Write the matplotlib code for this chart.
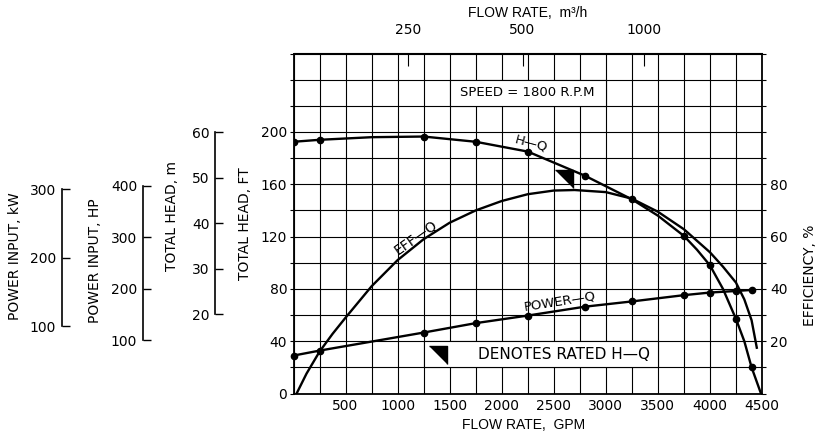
import numpy as np
import matplotlib
matplotlib.use('Agg')
import matplotlib.pyplot as plt
from matplotlib.patches import Rectangle
from matplotlib.ticker import MultipleLocator

# pump performance at 1800 rpm, flow in GPM
hq_flow = [0, 250, 750, 1250, 1750, 2250, 2800, 3250, 3500, 3750, 3875, 4000, 4125,
           4250, 4330, 4400, 4490]
hq_head_ft = [192.5, 194, 196, 196.5, 192.5, 185, 166.5, 148.5, 136, 120.5, 110, 98, 80,
              57, 40, 20, 0]
hq_dots = [0, 1, 3, 4, 5, 6, 7, 9, 11, 13, 15]

eff_flow = [30, 125, 250, 375, 500, 750, 1000, 1250, 1500, 1750, 2000, 2250, 2500, 2700,
            3000, 3250, 3500, 3750, 4000, 4125, 4250, 4330, 4400, 4450]
eff_pct = [0, 7.6, 16, 22.8, 29, 41, 51, 59, 65.3, 70, 73.6, 76.2, 77.6, 77.8,
           77, 74.5, 69.5, 62.8, 54, 48.5, 42.4, 36, 28, 17.5]

pw_flow = [0, 250, 1250, 1750, 2250, 2800, 3250, 3750, 4000, 4250, 4400]
pw_hp = [72.5, 82, 116.5, 134.5, 149, 166, 176, 188, 193, 196, 198]

rated_flow, rated_head = 2680, 171

top_ticks_gpm = [1100, 2200, 3370]
top_labels = ['250', '500', '1000']

plt.rcParams['font.family'] = 'DejaVu Sans'
W, H = 816, 438
fig = plt.figure(figsize=(W / 100, H / 100), dpi=100)


def box(x0, y0, x1, y1):
    # pixel rectangle measured from the top-left corner -> figure rect
    return [x0 / W, 1 - y1 / H, (x1 - x0) / W, (y1 - y0) / H]


ax = fig.add_axes(box(293.5, 53.5, 762, 393.5))
ax.set_xlim(0, 4500)
ax.set_ylim(0, 260)
ax.set_xticks(np.arange(500, 4501, 500))
ax.xaxis.set_minor_locator(MultipleLocator(250))
ax.set_yticks(np.arange(0, 201, 40))
ax.yaxis.set_minor_locator(MultipleLocator(20))
ax.set_axisbelow(True)
ax.grid(which='both', color='black', lw=0.8)
ax.tick_params(axis='x', which='both', length=0, pad=4, labelsize=10)
ax.tick_params(axis='y', which='both', direction='out', length=3, width=0.8,
               pad=1.5, labelsize=10)
for s in ax.spines.values():
    s.set_linewidth(1.3)

# blank cells for the notes
for x0, y0, w, h in [(1500, 220, 1500, 20), (1250, 20, 2250, 20)]:
    ax.add_patch(Rectangle((x0, y0), w, h, facecolor='white', edgecolor='black',
                           lw=0.8, zorder=1))
ax.text(2250, 230, 'SPEED = 1800 R.P.M', ha='center', va='center', fontsize=9.5)
ax.text(2600, 29.5, 'DENOTES RATED H—Q', ha='center', va='center', fontsize=11)

tri = [(-1, 0), (0, 0), (0, -1)]
ax.plot([1470], [36.5], marker=tri, markersize=26, color='black', ls='none', zorder=3)
ax.plot([rated_flow], [rated_head], marker=tri, markersize=26, color='black',
        ls='none', zorder=3)

ax.plot(hq_flow, hq_head_ft, color='black', lw=1.7, marker='o', markersize=4.5,
        markevery=hq_dots, zorder=3)
ax.text(2281, 191, 'H—Q', rotation=-15, ha='center', va='center', fontsize=9.5)
ax.text(1177, 119.5, 'EFF—Q', rotation=35, ha='center', va='center', fontsize=10)
ax.text(2560, 70.5, 'POWER—Q', rotation=9, ha='center', va='center', fontsize=9.5)

# efficiency on the right-hand scale
ax_eff = ax.twinx()
ax_eff.set_ylim(0, 130)
ax_eff.set_yticks([20, 40, 60, 80])
ax_eff.yaxis.set_minor_locator(MultipleLocator(10))
ax_eff.tick_params(axis='y', which='both', direction='out', length=3, width=0.8,
                   pad=3, labelsize=10)
ax_eff.plot(eff_flow, eff_pct, color='black', lw=1.7)
for s in ax_eff.spines.values():
    s.set_visible(False)

# power input shares the grid, 2.5 HP per foot of head
ax_pw = ax.twinx()
ax_pw.set_ylim(0, 650)
ax_pw.set_axis_off()
ax_pw.plot(pw_flow, pw_hp, color='black', lw=1.7, marker='o', markersize=4.5,
           clip_on=False)

top = ax.secondary_xaxis('top')
top.set_xticks(top_ticks_gpm, top_labels)
top.tick_params(direction='in', length=9.5, width=0.8, pad=12, labelsize=10)


def side_scale(x, y_lo, y_hi, lo, hi, ticks):
    a = fig.add_axes(box(x, y_hi, x + 1, y_lo))
    a.set_ylim(lo, hi)
    a.set_yticks(ticks)
    a.set_xticks([])
    for s in ('top', 'right', 'bottom'):
        a.spines[s].set_visible(False)
    a.spines['left'].set_linewidth(1.2)
    a.patch.set_visible(False)
    a.tick_params(axis='y', direction='in', length=6, width=1, pad=4, labelsize=10)
    return a


side_scale(215, 314, 132, 20, 60, [20, 30, 40, 50, 60])
side_scale(142.7, 340, 186, 100, 400, [100, 200, 300, 400])
side_scale(61.7, 326, 189.3, 100, 300, [100, 200, 300])


def label(px, py, s, rot=90, **kw):
    fig.text(px / W, 1 - py / H, s, rotation=rot, ha='center', va='center',
             fontsize=10, **kw)


label(245, 224, 'TOTAL HEAD, FT')
label(172, 216, 'TOTAL HEAD, m')
label(95, 261, 'POWER INPUT, HP')
label(15, 256, 'POWER INPUT, kW')
label(810, 275, 'EFFICIENCY, %')
label(528, 13, 'FLOW RATE,  m³/h', rot=0, family='Liberation Sans')
label(524, 425, 'FLOW RATE,  GPM', rot=0, family='Liberation Sans')

fig.savefig('out.png', dpi=100, facecolor='white')
